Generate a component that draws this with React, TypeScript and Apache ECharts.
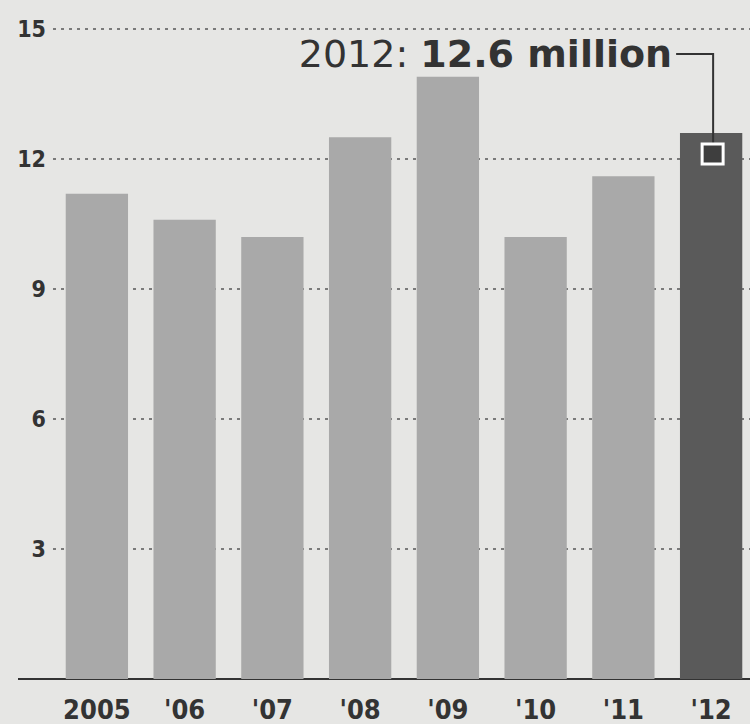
import React, { useEffect, useRef } from 'react';
import * as echarts from 'echarts';

const categories = ['2005', "'06", "'07", "'08", "'09", "'10", "'11", "'12"];
const values = [11.2, 10.6, 10.2, 12.5, 13.9, 10.2, 11.6, 12.6];
const highlightIndex = 7;
const yMin = 0;
const yMax = 15;
const yStep = 3;
const calloutYear = '2012: ';
const calloutValue = '12.6 million';

const BG = '#e6e6e4';
const BAR = '#a9a9a9';
const BAR_DARK = '#5a5a5a';
const INK = '#333333';
const COND = '"DejaVu Sans Condensed", sans-serif';

export default function App() {
  const ref = useRef<HTMLDivElement>(null);
  useEffect(() => {
    document.body.style.margin = '0';
    if (!ref.current) return;
    const chart = echarts.init(ref.current, null, { renderer: 'svg' });
    chart.setOption({
      animation: false,
      backgroundColor: BG,
      grid: { left: 53, right: 5, top: 29, bottom: 45, containLabel: false },
      xAxis: {
        type: 'category',
        data: categories,
        axisLine: { show: true, lineStyle: { color: INK, width: 2 } },
        axisTick: { show: false },
        axisLabel: {
          color: INK,
          fontSize: 27,
          fontWeight: 'bold',
          fontFamily: COND,
          margin: 17,
          interval: 0,
        },
      },
      yAxis: {
        type: 'value',
        min: yMin,
        max: yMax,
        interval: yStep,
        axisLine: { show: false },
        axisTick: { show: false },
        axisLabel: {
          color: INK,
          fontSize: 23,
          fontWeight: 'bold',
          fontFamily: COND,
          margin: 7,
          formatter: (v: number) => (v === 0 ? '' : String(v)),
        },
        splitLine: { show: true, lineStyle: { color: '#7a7a7a', width: 2, type: [3, 5] } },
      },
      series: [
        {
          type: 'bar',
          barCategoryGap: '29%',
          data: values.map((v, i) => ({
            value: v,
            itemStyle: { color: i === highlightIndex ? BAR_DARK : BAR },
          })),
        },
      ],
    });

    const [px, py] = chart.convertToPixel({ gridIndex: 0 }, [highlightIndex, values[highlightIndex]]) as number[];
    const [, y0] = chart.convertToPixel({ gridIndex: 0 }, [0, 0]) as number[];
    const lineY = py - 79;
    chart.setOption({
      graphic: [
        {
          type: 'line',
          z: 100,
          shape: { x1: 18, y1: y0, x2: 60, y2: y0 },
          style: { stroke: INK, lineWidth: 2 },
        },
        {
          type: 'polyline',
          z: 100,
          shape: { points: [[px - 35, lineY], [px + 2, lineY], [px + 2, py + 11]] },
          style: { stroke: INK, lineWidth: 2, fill: null },
        },
        {
          type: 'rect',
          z: 101,
          shape: { x: px - 9, y: py + 11, width: 21, height: 20 },
          style: { fill: '#3e3e3e', stroke: '#ffffff', lineWidth: 3 },
        },
        {
          type: 'text',
          z: 100,
          x: px - 39,
          y: lineY,
          style: {
            text: `{a|${calloutYear}}{b|${calloutValue}}`,
            align: 'right',
            verticalAlign: 'middle',
            rich: {
              a: { fontSize: 38, fontFamily: '"DejaVu Sans", sans-serif', fill: INK, fontWeight: 'normal' },
              b: { fontSize: 38, fontFamily: '"DejaVu Sans", sans-serif', fill: INK, fontWeight: 'bold' },
            },
          },
        },
      ],
    });
    return () => chart.dispose();
  }, []);
  return (
    <div style={{ width: 750, height: 724, overflow: 'hidden', position: 'relative' }}>
      <div ref={ref} style={{ width: 760, height: 724 }} />
    </div>
  );
}
